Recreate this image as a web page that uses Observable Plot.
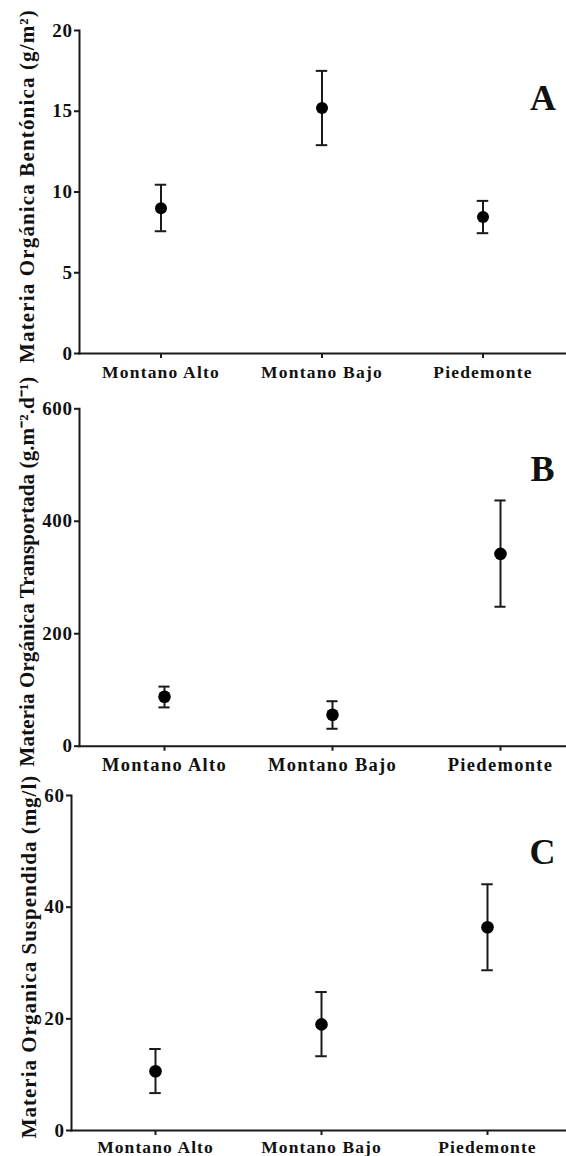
<!DOCTYPE html>
<html>
<head>
<meta charset="utf-8">
<script src="https://cdn.jsdelivr.net/npm/d3@7"></script>
<script src="https://cdn.jsdelivr.net/npm/@observablehq/plot@0.6"></script>
<style>
  body { margin: 0; background: #fff; }
  #fig { position: relative; width: 566px; height: 1156px; overflow: hidden; background: #fff; }
  .panel { position: absolute; left: 0; }
  .panel svg { overflow: visible; }
  .panel text { font-weight: bold; }
  g[aria-label="y-axis tick label"] { letter-spacing: 0.6px; }
</style>
</head>
<body>
<div id="fig"></div>
<script>
// Zonas altitudinales (categorías comunes a los tres paneles)
const zonas = ["Montano Alto", "Montano Bajo", "Piedemonte"];

// A: materia orgánica bentónica (g/m²) — media y límites de la barra de error
const bentMedia = [9.0, 15.2, 8.45];
const bentSup   = [10.45, 17.5, 9.45];
const bentInf   = [7.57, 12.9, 7.45];
const bentTicks = [0, 5, 10, 15, 20];

// B: materia orgánica transportada (g·m⁻²·d⁻¹)
const transMedia = [88, 56, 342];
const transSup   = [106, 80, 437];
const transInf   = [69, 31, 248];
const transTicks = [0, 200, 400, 600];

// C: materia orgánica suspendida (mg/l)
const suspMedia = [10.6, 19.0, 36.4];
const suspSup   = [14.6, 24.8, 44.1];
const suspInf   = [6.7, 13.3, 28.7];
const suspTicks = [0, 20, 40, 60];

const SERIF = "'Liberation Serif', 'Times New Roman', serif";
const INK = "#1a1a1a";
const CAP = 12; // ancho de los remates de las barras de error

function panel(cfg) {
  const rows = zonas.map((z, i) => ({zona: z, media: cfg.media[i], sup: cfg.sup[i], inf: cfg.inf[i]}));
  const inset = (cfg.step - CAP) / 2;
  const chart = Plot.plot({
    width: 566,
    height: cfg.height,
    marginTop: cfg.marginTop,
    marginBottom: cfg.marginBottom,
    marginLeft: cfg.marginLeft,
    marginRight: 0,
    style: {fontFamily: SERIF, color: "#111", background: "transparent", overflow: "visible"},
    x: {type: "band", domain: zonas, padding: 0, range: [cfg.marginLeft, cfg.marginLeft + 3 * cfg.step], label: null},
    y: {domain: [0, cfg.ticks[cfg.ticks.length - 1]], label: null},
    marks: [
      Plot.frame({anchor: "left", stroke: INK, strokeWidth: 2}),
      Plot.frame({anchor: "bottom", stroke: INK, strokeWidth: 2}),
      Plot.axisY({ticks: cfg.ticks, tickSize: 5, tickPadding: 2, fontSize: cfg.yFont, fontWeight: "bold",
                  stroke: INK, strokeWidth: 2, label: null}),
      Plot.axisX({tickSize: 5, tickPadding: cfg.xPad, fontSize: cfg.xFont, fontWeight: "bold",
                  stroke: INK, strokeWidth: 2, label: null}),
      Plot.ruleX(rows, {x: "zona", y1: "inf", y2: "sup", stroke: INK, strokeWidth: 2}),
      Plot.tickY(rows, {x: "zona", y: "sup", stroke: INK, strokeWidth: 2, inset}),
      Plot.tickY(rows, {x: "zona", y: "inf", stroke: INK, strokeWidth: 2, inset}),
      Plot.dot(rows, {x: "zona", y: "media", r: cfg.r, fill: "#000", stroke: "none"}),
      Plot.text([cfg.titulo], {frameAnchor: "left", textAnchor: "middle", lineAnchor: "middle", rotate: -90,
                  dx: cfg.labelDx, dy: cfg.labelDy, fontSize: cfg.labelFont, fontWeight: "bold", fill: "#111"}),
      Plot.text([cfg.letra], {frameAnchor: "top-right", textAnchor: "middle", lineAnchor: "middle",
                  dx: cfg.letraDx, dy: cfg.letraDy, fontSize: 36, fontWeight: "bold", fill: "#111"})
    ]
  });
  // espaciado de letras de los rótulos
  const svg = d3.select(chart);
  svg.selectAll('g[aria-label="x-axis tick label"] text').style("letter-spacing", cfg.xSpacing + "px");
  svg.selectAll("text").filter(function () { return this.textContent === cfg.titulo; })
     .style("letter-spacing", cfg.labelSpacing + "px");
  const div = document.createElement("div");
  div.className = "panel";
  div.style.top = cfg.top + "px";
  div.appendChild(chart);
  document.getElementById("fig").appendChild(div);
}

panel({
  top: 0, height: 382, marginTop: 30, marginBottom: 29, marginLeft: 79, step: 161.5,
  media: bentMedia, sup: bentSup, inf: bentInf, ticks: bentTicks,
  yFont: 19, xFont: 17.5, xSpacing: 1.2, xPad: 7, r: 6,
  titulo: "Materia Orgánica Bentónica (g/m²)", labelFont: 21, labelSpacing: 1.15, labelDx: -52, labelDy: -6,
  letra: "A", letraDx: -23.5, letraDy: 68
});

panel({
  top: 382, height: 388, marginTop: 26.3, marginBottom: 24.3, marginLeft: 79, step: 168.8,
  media: transMedia, sup: transSup, inf: transInf, ticks: transTicks,
  yFont: 19, xFont: 18.5, xSpacing: 1.3, xPad: 6.5, r: 6.3,
  titulo: "Materia Orgánica Transportada (g.m⁻².d⁻¹)", labelFont: 21, labelSpacing: 0.1, labelDx: -52.5, labelDy: -6,
  letra: "B", letraDx: -24, letraDy: 61
});

panel({
  top: 770, height: 386, marginTop: 25, marginBottom: 26, marginLeft: 71, step: 166.5,
  media: suspMedia, sup: suspSup, inf: suspInf, ticks: suspTicks,
  yFont: 19, xFont: 17.5, xSpacing: 1.1, xPad: 5, r: 6.3,
  titulo: "Materia Organica Suspendida (mg/l)", labelFont: 21, labelSpacing: 1.0, labelDx: -42, labelDy: -6.5,
  letra: "C", letraDx: -24, letraDy: 56.5
});
</script>
</body>
</html>
